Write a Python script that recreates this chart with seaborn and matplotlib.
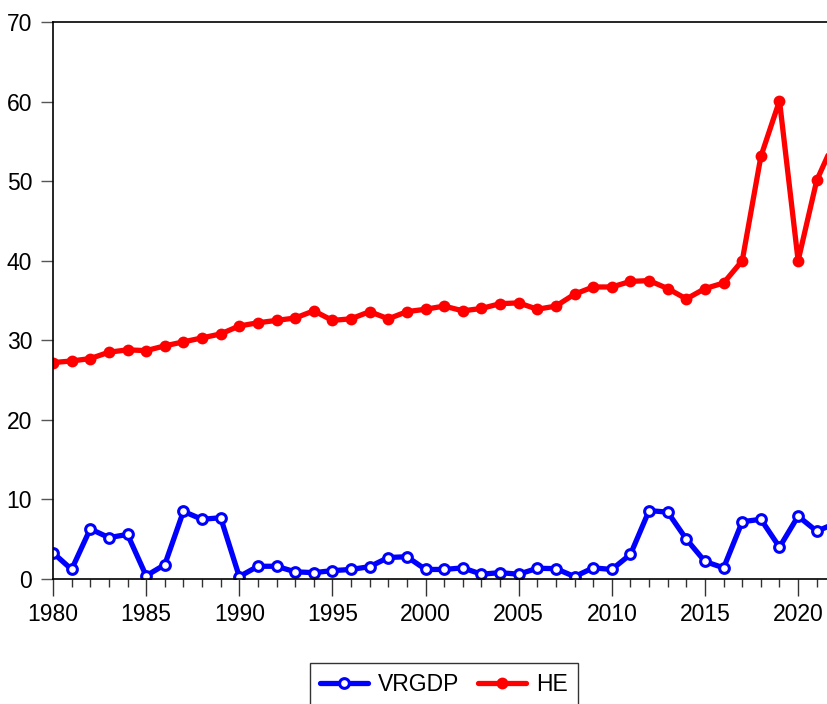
import matplotlib
matplotlib.use("Agg")
import matplotlib.pyplot as plt
from matplotlib.ticker import MultipleLocator
import numpy as np
import pandas as pd
import seaborn as sns

years = list(range(1980, 2023))

vrgdp = [3.3, 1.2, 6.3, 5.2, 5.6, 0.4, 1.8, 8.5, 7.5, 7.7,
         0.3, 1.6, 1.6, 0.9, 0.8, 1.05, 1.2, 1.55, 2.7, 2.8,
         1.2, 1.2, 1.4, 0.6, 0.8, 0.6, 1.35, 1.3, 0.3, 1.4,
         1.2, 3.1, 8.6, 8.4, 5.0, 2.2, 1.4, 7.2, 7.5, 4.0,
         7.9, 6.0, 7.0]

he = [27.2, 27.4, 27.7, 28.5, 28.8, 28.7, 29.3, 29.8, 30.3, 30.8,
      31.8, 32.2, 32.5, 32.8, 33.7, 32.5, 32.7, 33.6, 32.7, 33.6,
      33.9, 34.3, 33.7, 34.0, 34.6, 34.7, 33.9, 34.3, 35.8, 36.7,
      36.7, 37.4, 37.5, 36.5, 35.2, 36.5, 37.2, 40.0, 53.1, 60.1,
      40.0, 50.1, 55.3]

y_ticks = [0, 10, 20, 30, 40, 50, 60, 70]
x_ticks = [1980, 1985, 1990, 1995, 2000, 2005, 2010, 2015, 2020]

df = pd.DataFrame({"year": years, "VRGDP": vrgdp, "HE": he})

sns.set_style("white")
plt.rcParams["font.family"] = ["Liberation Sans", "DejaVu Sans"]
plt.rcParams["text.color"] = "black"
plt.rcParams["xtick.color"] = "black"
plt.rcParams["ytick.color"] = "black"

W, H = 827, 704
fig = plt.figure(figsize=(W / 100, H / 100), dpi=100)
ax = fig.add_axes([53 / W, 125 / H, (W - 53) / W, 557 / H])

sns.lineplot(data=df, x="year", y="VRGDP", ax=ax, color="#0000ff",
             linewidth=3.8, marker="o", markersize=7,
             markerfacecolor="white", markeredgecolor="#0000ff",
             markeredgewidth=2.2, label="VRGDP", legend=False)
sns.lineplot(data=df, x="year", y="HE", ax=ax, color="#ff0000",
             linewidth=3.8, marker="o", markersize=8.5,
             markerfacecolor="#ff0000", markeredgecolor="#ff0000",
             markeredgewidth=0, label="HE", legend=False)

ax.set_xlim(1980, 2021.55)
ax.set_ylim(0, 70)
ax.set_xticks(x_ticks)
ax.set_xticklabels([str(t) for t in x_ticks])
ax.xaxis.set_minor_locator(MultipleLocator(1))
ax.set_yticks(y_ticks)
ax.set_yticklabels([str(t) for t in y_ticks])
ax.set_xlabel("")
ax.set_ylabel("")

ax.tick_params(axis="x", which="major", direction="out", length=12,
               width=1, color="#333333", labelsize=16.5, pad=5,
               bottom=True, labelcolor="black")
ax.tick_params(axis="x", which="minor", direction="out", length=6,
               width=1, color="#333333", bottom=True)
ax.tick_params(axis="y", which="major", direction="out", length=9,
               width=1, color="#555555", labelsize=16.5, pad=6, left=True,
               labelcolor="black")

for side in ("left", "bottom", "top"):
    ax.spines[side].set_visible(True)
    ax.spines[side].set_color("black")
    ax.spines[side].set_linewidth(1.2)
ax.spines["right"].set_visible(False)
ax.grid(False)

handles, labels = ax.get_legend_handles_labels()
leg = fig.legend(handles, labels, loc="upper center",
                 bbox_to_anchor=(444 / W, (H - 663) / H), ncol=2,
                 fontsize=16.5, frameon=True, fancybox=False,
                 edgecolor="black", handlelength=2.1, numpoints=1,
                 columnspacing=0.8, handletextpad=0.45, borderpad=0.45,
                 borderaxespad=0)
leg.get_frame().set_linewidth(1.0)

fig.savefig("out.png", dpi=100)
